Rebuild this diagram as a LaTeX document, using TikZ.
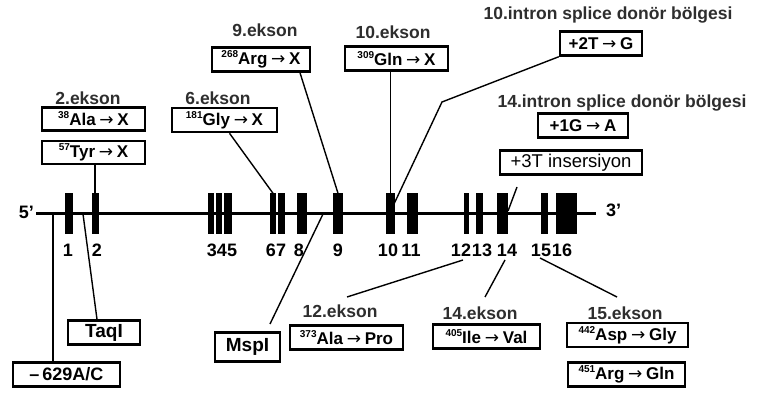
\documentclass[tikz,border=0pt]{standalone}
\usepackage{fontspec}
\setmainfont{Liberation Sans}
\newfontfamily\arrfont{DejaVu Sans}
\newcommand\sups[1]{\raisebox{0.42em}{\fontsize{10}{10}\selectfont #1}}
\newcommand\arr{\hspace{0.22em}{\arrfont\mdseries →}\hspace{0.22em}}
\newcommand\exonbar[3]{\node[exon,minimum width=#3pt] (#1) at (#2,214) {};}
\tikzset{
  exon/.style={fill=black, inner sep=0pt, minimum height=41pt},
  mbox/.style={draw, line width=2.5pt, inner sep=0pt, minimum height=24pt,
    font=\bfseries\fontsize{17}{17}\selectfont},
  ttl/.style={font=\bfseries\fontsize{17.5}{17.5}\selectfont, text=black!82, inner sep=0pt},
  num/.style={font=\bfseries\fontsize{18}{18}\selectfont, inner sep=0pt},
  conn/.style={line width=1.4pt},
}
\begin{document}
\begin{tikzpicture}[x=1pt,y=-1pt]
\useasboundingbox (0,0) rectangle (757,395);
% main line
\coordinate (L) at (36,214);
\coordinate (R) at (596,214);
\draw[line width=3pt] (L) -- (R);
\node[num, anchor=east] (p5) at (34,212) {5'};
\node[num, anchor=west] (p3) at (606,210) {3'};
% exons
\exonbar{e1}{69}{8}
\exonbar{e2}{95}{7}
\exonbar{e3}{211}{6}
\exonbar{e4}{219}{6}
\exonbar{e5}{228}{8}
\exonbar{e6}{273}{6}
\exonbar{e7}{281.5}{7}
\exonbar{e8}{302}{10}
\exonbar{e9}{338}{10}
\exonbar{e10}{390.5}{9}
\exonbar{e11}{412.5}{11}
\exonbar{e12}{466.5}{5}
\exonbar{e13}{479.5}{7}
\exonbar{e14}{502.5}{11}
\exonbar{e15}{544.5}{7}
\exonbar{e16}{566.5}{21}
% exon numbers
\node[num] (n1) at (68,250) {1};
\node[num] (n2) at (97,250) {2};
\node[num] (n345) at (222,250) {345};
\node[num] (n67) at (276,250) {67};
\node[num] (n8) at (299,250) {8};
\node[num] (n9) at (338,250) {9};
\node[num] (n10) at (388,250) {10};
\node[num] (n11) at (411,250) {11};
\node[num] (n12) at (461,250) {12};
\node[num] (n13) at (482,250) {13};
\node[num] (n14) at (507,250) {14};
\node[num] (n15) at (541,250) {15};
\node[num] (n16) at (562,250) {16};
% titles
\node[ttl] (t2) at (88,98) {2.ekson};
\node[ttl] (t6) at (218,98) {6.ekson};
\node[ttl] (t9) at (265,30) {9.ekson};
\node[ttl] (t10) at (393,32) {10.ekson};
\node[ttl] (ti10) at (608,15) {10.intron splice donör bölgesi};
\node[ttl] (ti14) at (622,103) {14.intron splice donör bölgesi};
\node[ttl] (t12) at (340,311) {12.ekson};
\node[ttl] (t14) at (480,313) {14.ekson};
\node[ttl] (t15) at (625,313) {15.ekson};
% boxes
\node[mbox, minimum width=103pt, minimum height=23pt] (ala38) at (93.5,119) {\sups{38}Ala\arr X};
\node[mbox, minimum width=103pt, minimum height=23pt] (tyr57) at (93.5,152.5) {\sups{57}Tyr\arr X};
\node[mbox, minimum width=105pt] (gly181) at (224.5,120) {\sups{181}Gly\arr X};
\node[mbox, minimum width=98pt] (arg268) at (261,59.5) {\sups{268}Arg\arr X};
\node[mbox, minimum width=103pt] (gln309) at (396.5,58.5) {\sups{309}Gln\arr X};
\node[mbox, minimum width=82pt] (t2g) at (601,43.5) {+2T\arr G};
\node[mbox, minimum width=90pt] (g1a) at (583,125.5) {+1G\arr A};
\node[mbox, minimum width=142pt, font=\fontsize{18.5}{18.5}\selectfont] (ins3t) at (571,162.5) {+3T insersiyon};
\node[mbox, minimum width=72pt, font=\bfseries\fontsize{19}{19}\selectfont] (taqi) at (104,332.5) {TaqI};
\node[mbox, minimum width=107pt, font=\bfseries\fontsize{18}{18}\selectfont] (a629) at (66.5,374.5) {–\,629A/C};
\node[mbox, minimum width=65pt, minimum height=29pt, font=\bfseries\fontsize{19}{19}\selectfont] (mspi) at (247.5,347) {MspI};
\node[mbox, minimum width=113pt] (ala373) at (346.5,337.5) {\sups{373}Ala\arr Pro};
\node[mbox, minimum width=107pt] (ile405) at (486.5,336.5) {\sups{405}Ile\arr Val};
\node[mbox, minimum width=121pt] (asp442) at (627.5,335) {\sups{442}Asp\arr Gly};
\node[mbox, minimum width=117pt] (arg451) at (626.5,374.5) {\sups{451}Arg\arr Gln};
% connector coordinates
\coordinate (k10) at (442,102);
\coordinate (k10e) at (394,204);
\coordinate (insa) at (517,187);
\coordinate (insb) at (508,211);
\coordinate (taqa) at (83,214);
\coordinate (c629) at (53,214);
\coordinate (mspa) at (270,324);
\coordinate (mspb) at (323,214);
\coordinate (a373a) at (347,297);
\coordinate (a373b) at (463,260);
\coordinate (i405a) at (485,297);
\coordinate (i405b) at (505,260);
\coordinate (a442a) at (617,297);
\coordinate (a442b) at (540,258);
% connectors
\draw[conn] (tyr57.south -| e2.north) -- (e2.north);
\draw[conn] ([xshift=5pt]gly181.south) -- (e6.north);
\draw[conn] ([xshift=39pt]arg268.south) -- (e9.north);
\draw[conn] (gln309.south -| e10.north) -- (e10.north);
\draw[conn] (t2g.south west) -- (k10) -- (k10e);
\draw[conn] (insa) -- (insb);
\draw[conn] (taqa) -- ([xshift=-7pt]taqi.north);
\draw[conn] (c629) -- (c629 |- a629.north);
\draw[conn] (mspa) -- (mspb);
\draw[conn] (a373a) -- (a373b);
\draw[conn] (i405a) -- (i405b);
\draw[conn] (a442a) -- (a442b);
\end{tikzpicture}
\end{document}
